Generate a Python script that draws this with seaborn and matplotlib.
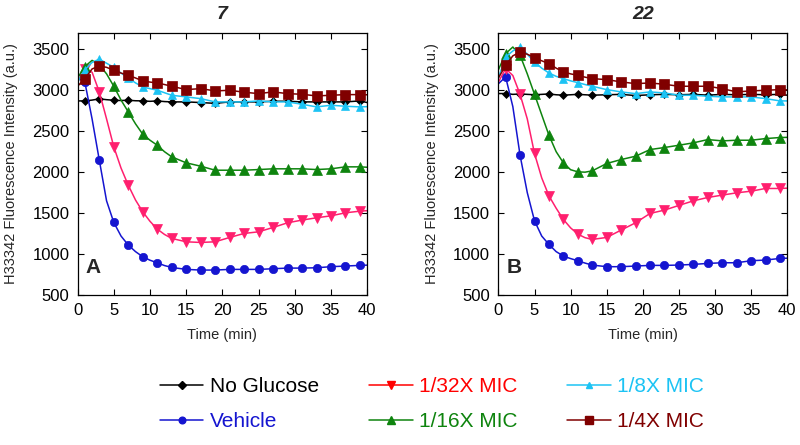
import numpy as np
import matplotlib
matplotlib.use('Agg')
import matplotlib.pyplot as plt
from matplotlib.lines import Line2D
import seaborn as sns

# time points (min); markers are drawn on the odd minutes only
time = [0, 1, 2, 3, 4, 5, 6, 7, 8, 9, 10, 11, 12, 13,
        15, 17, 19, 21, 23, 25, 27, 29, 31, 33, 35, 37, 39, 40]

labels = ['No Glucose', 'Vehicle', '1/32X MIC', '1/16X MIC', '1/8X MIC', '1/4X MIC']

# Panel A - compound 7
a_noglc = [2870, 2870, 2880, 2895, 2885, 2878, 2875, 2878, 2872, 2870, 2865, 2870, 2862, 2858,
           2858, 2850, 2840, 2858, 2858, 2858, 2866, 2866, 2858, 2858, 2858, 2858, 2870, 2850]
a_vehicle = [3150, 3100, 2650, 2146, 1650, 1386, 1220, 1110, 1030, 967, 925, 894, 860, 837,
             813, 805, 805, 813, 813, 813, 821, 829, 829, 833, 846, 854, 862, 865]
a_32x = [3100, 3260, 3220, 2980, 2650, 2309, 2050, 1841, 1660, 1516, 1400, 1305, 1240, 1191,
         1150, 1142, 1150, 1203, 1252, 1272, 1325, 1382, 1415, 1443, 1467, 1504, 1524, 1530]
a_16x = [3150, 3290, 3365, 3310, 3200, 3049, 2880, 2736, 2590, 2463, 2390, 2329, 2250, 2187,
         2114, 2073, 2024, 2024, 2024, 2032, 2041, 2041, 2041, 2032, 2041, 2065, 2065, 2060]
a_8x = [3100, 3250, 3340, 3380, 3330, 3280, 3210, 3150, 3090, 3040, 3020, 3000, 2970, 2939,
        2919, 2898, 2858, 2858, 2858, 2870, 2858, 2858, 2829, 2797, 2817, 2805, 2797, 2800]
a_4x = [3050, 3142, 3260, 3297, 3280, 3244, 3210, 3183, 3150, 3114, 3100, 3089, 3070, 3049,
        3008, 3020, 2992, 3000, 2976, 2959, 2980, 2959, 2951, 2931, 2939, 2947, 2947, 2945]

# Panel B - compound 22
b_noglc = [2960, 2960, 2950, 2955, 2950, 2945, 2950, 2955, 2945, 2940, 2945, 2950, 2945, 2940,
           2945, 2950, 2935, 2945, 2950, 2945, 2950, 2940, 2950, 2945, 2950, 2945, 2950, 2940]
b_vehicle = [3080, 3163, 2800, 2207, 1750, 1407, 1220, 1118, 1030, 976, 945, 919, 890, 866,
             846, 846, 854, 862, 862, 866, 874, 886, 894, 894, 919, 927, 947, 950]
b_32x = [3100, 3264, 3180, 2951, 2650, 2228, 1930, 1711, 1560, 1423, 1320, 1244, 1200, 1179,
         1203, 1293, 1382, 1496, 1537, 1594, 1650, 1691, 1720, 1748, 1768, 1801, 1801, 1805]
b_16x = [3250, 3447, 3528, 3427, 3200, 2951, 2700, 2451, 2250, 2114, 2030, 2004, 2000, 2016,
         2106, 2154, 2195, 2276, 2301, 2329, 2358, 2398, 2382, 2390, 2390, 2410, 2423, 2425]
b_8x = [3150, 3406, 3480, 3528, 3440, 3345, 3270, 3211, 3170, 3142, 3115, 3093, 3070, 3049,
        3008, 2980, 2959, 2980, 2967, 2939, 2939, 2927, 2919, 2919, 2919, 2898, 2870, 2870]
b_4x = [3150, 3305, 3420, 3467, 3440, 3398, 3360, 3325, 3270, 3224, 3200, 3183, 3160, 3142,
        3130, 3102, 3081, 3089, 3073, 3049, 3049, 3049, 3020, 2980, 2992, 3000, 3008, 3005]

line_colors = ['#000000', '#1515D0', '#FF1F6E', '#0E840E', '#1CC3F4', '#800000']
text_colors = ['#000000', '#1515D0', '#FF0000', '#0E840E', '#1CC3F4', '#800000']
markers = ['D', 'o', 'v', '^', '^', 's']
msizes = [4.5, 6, 7.5, 7.5, 6, 7]

sns.set_style('ticks')
plt.rcParams['font.family'] = ['Liberation Sans', 'DejaVu Sans']

fig = plt.figure(figsize=(8, 4.45), dpi=100)
ax_a = fig.add_axes([0.097, 0.337, 0.362, 0.589])
ax_b = fig.add_axes([0.623, 0.337, 0.361, 0.589])

odd = [t % 2 == 1 for t in time]

panels = [
    (ax_a, [a_noglc, a_vehicle, a_32x, a_16x, a_8x, a_4x], '7', 'A'),
    (ax_b, [b_noglc, b_vehicle, b_32x, b_16x, b_8x, b_4x], '22', 'B'),
]

for ax, series, title, tag in panels:
    for vals, c, m, ms in zip(series, line_colors, markers, msizes):
        sns.lineplot(x=time, y=vals, ax=ax, color=c, marker=m, markersize=ms,
                     markevery=odd, markeredgecolor=c, markeredgewidth=0.5,
                     linewidth=1.1, estimator=None, sort=False, legend=False)
    ax.set_xlim(0, 40)
    ax.set_ylim(500, 3700)
    ax.set_xticks(range(0, 41, 5))
    ax.set_yticks(range(500, 3501, 500))
    ax.tick_params(direction='in', top=True, right=True, length=4, width=0.8,
                   labelsize=12, colors='black', pad=6)
    for sp in ax.spines.values():
        sp.set_color('black')
        sp.set_linewidth(0.9)
    ax.set_xlabel('Time (min)', fontsize=10.5, labelpad=7)
    ax.set_ylabel('H33342 Fluorescence Intensity (a.u.)', fontsize=10.5, labelpad=10)
    ax.set_title(title, fontsize=14, fontweight='bold', fontstyle='italic', pad=10)
    ax.text(0.055, 0.105, tag, transform=ax.transAxes, fontsize=15,
            fontweight='bold', ha='center', va='center')

handles = [Line2D([], [], color=c, marker=m, markersize=ms * 0.8, linewidth=1.1)
           for c, m, ms in zip(text_colors, markers, msizes)]
fig.legend(handles, labels, ncol=3, loc='center', bbox_to_anchor=(0.54, 0.092),
           frameon=False, fontsize=15, handlelength=2.1, handletextpad=0.3,
           columnspacing=2.4, labelspacing=0.75, labelcolor=text_colors)

fig.savefig('out.png', dpi=100)
